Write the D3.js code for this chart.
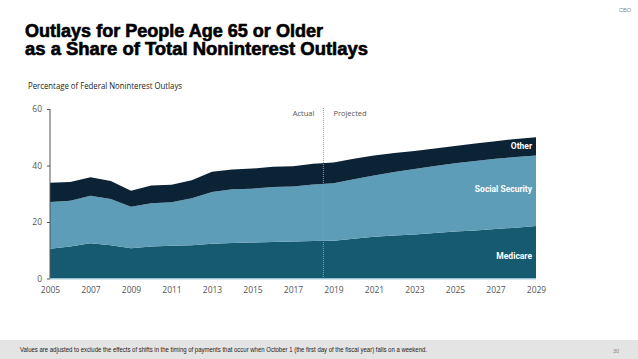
<!DOCTYPE html>
<html><head><meta charset="utf-8">
<script src="https://cdn.jsdelivr.net/npm/d3@7"></script>
<style>body{margin:0;background:#fff}svg{display:block}</style>
</head><body>
<svg id="c" width="638" height="359"></svg>
<script>
const years = [2005,2006,2007,2008,2009,2010,2011,2012,2013,2014,2015,2016,2017,2018,2019,2020,2021,2022,2023,2024,2025,2026,2027,2028,2029];
const medicare = [10.5,11.3,12.5,11.8,10.7,11.3,11.6,11.8,12.3,12.6,12.7,12.9,13.1,13.3,13.4,14.1,14.8,15.2,15.6,16.1,16.6,17.0,17.5,18.0,18.6];
const socialSecurity = [16.6,16.2,16.8,16.3,14.7,15.3,15.4,16.6,18.3,19.0,19.1,19.5,19.5,20.0,20.3,21.0,21.7,22.5,23.2,23.7,24.2,24.6,24.9,25.0,24.9];
const other = [6.8,6.7,6.5,6.4,5.7,6.3,6.2,6.4,7.2,7.0,7.1,7.2,7.1,7.3,7.4,7.3,7.0,6.7,6.3,6.2,6.1,6.2,6.2,6.4,6.5];
const seriesNames = ["Medicare","Social Security","Other"];
const colors = ["#165a70","#5e9db7","#0c2235"];
const yTicks = [0,20,40,60];
const xTicks = [2005,2007,2009,2011,2013,2015,2017,2019,2021,2023,2025,2027,2029];

const svg = d3.select("#c");
const x = d3.scaleLinear().domain([2005,2029]).range([50,536]);
const y = d3.scaleLinear().domain([0,60]).range([278.5,109]);

const table = years.map((yr,i)=>({year:yr,"Medicare":medicare[i],"Social Security":socialSecurity[i],"Other":other[i]}));
const stack = d3.stack().keys(seriesNames)(table);
const area = d3.area().x(d=>x(d.data.year)).y0(d=>y(d[0])).y1(d=>y(d[1]));
svg.append("g").selectAll("path").data(stack).join("path")
  .attr("d",area).attr("fill",(d,i)=>colors[i]);

// light baseline
svg.append("line").attr("x1",50).attr("x2",536).attr("y1",y(0)+0.5).attr("y2",y(0)+0.5)
  .attr("stroke","#a9d3e2").attr("stroke-width",1);

// y axis
const ya = svg.append("g").attr("transform","translate(50,0)")
  .call(d3.axisLeft(y).tickValues(yTicks).tickSize(3).tickPadding(5));
ya.select(".domain").attr("stroke","#555").attr("d","M0,"+y(60)+"V"+y(0));
ya.selectAll(".tick line").attr("stroke","#555");
ya.selectAll("text").attr("font-family","Open Sans, sans-serif").attr("font-size",8.5).attr("fill","#555");

// x axis
const xa = svg.append("g").attr("transform","translate(0,"+y(0)+")")
  .call(d3.axisBottom(x).tickValues(xTicks).tickFormat(d3.format("d")).tickSize(0).tickPadding(8));
xa.select(".domain").remove();
xa.selectAll("text").attr("font-family","Open Sans, sans-serif").attr("font-size",8.5).attr("fill","#555");

// divider
const xd = x(2018.5);
svg.append("line").attr("x1",xd).attr("x2",xd).attr("y1",108).attr("y2",y(0))
  .attr("stroke","#999").attr("stroke-width",1).attr("stroke-dasharray","1,1");
svg.append("text").attr("x",xd-9).attr("y",116).attr("text-anchor","end")
  .attr("font-family","Open Sans, sans-serif").attr("font-size",7.5).attr("fill","#555").text("Actual");
svg.append("text").attr("x",xd+10).attr("y",116)
  .attr("font-family","Open Sans, sans-serif").attr("font-size",7.5).attr("fill","#555").text("Projected");

// series labels
const lab = [["Other",149],["Social Security",192],["Medicare",259]];
lab.forEach(([t,yy])=>{
  svg.append("text").attr("x",532).attr("y",yy).attr("text-anchor","end")
   .attr("font-family","Roboto, sans-serif").attr("font-weight","bold").attr("font-size",8.5)
   .attr("fill","#fff").text(t);
});

// titles
const titleLines = [["Outlays for People Age 65 or Older",36.5,298],["as a Share of Total Noninterest Outlays",54.5,343]];
titleLines.forEach(([t,yy,len])=>{
  svg.append("text").attr("x",25).attr("y",yy).attr("font-family","Liberation Sans, Arial, sans-serif")
    .attr("font-weight","bold").attr("font-size",17.5).attr("fill","#000")
    .attr("stroke","#000").attr("stroke-width",0.6)
    .attr("textLength",len).attr("lengthAdjust","spacingAndGlyphs").text(t);
});
svg.append("text").attr("x",28).attr("y",89).attr("font-family","Open Sans, sans-serif")
  .attr("font-size",8.5).attr("fill","#222").attr("textLength",154).attr("lengthAdjust","spacingAndGlyphs")
  .text("Percentage of Federal Noninterest Outlays");

// CBO
svg.append("text").attr("x",631).attr("y",12).attr("text-anchor","end").attr("font-family","Liberation Sans, Arial, sans-serif")
  .attr("font-size",5.5).attr("fill","#888").text("CBO");

// footer
svg.append("rect").attr("x",0).attr("y",340).attr("width",638).attr("height",19).attr("fill","#e4e4e4");
svg.append("text").attr("x",20).attr("y",352).attr("font-family","Liberation Sans, Arial, sans-serif")
  .attr("font-size",7).attr("fill","#222").attr("textLength",407).attr("lengthAdjust","spacingAndGlyphs")
  .text("Values are adjusted to exclude the effects of shifts in the timing of payments that occur when October 1 (the first day of the fiscal year) falls on a weekend.");
svg.append("text").attr("x",619).attr("y",353).attr("text-anchor","end").attr("font-family","Liberation Sans, Arial, sans-serif")
  .attr("font-size",5.5).attr("fill","#888").text("30");
</script>
</body></html>
